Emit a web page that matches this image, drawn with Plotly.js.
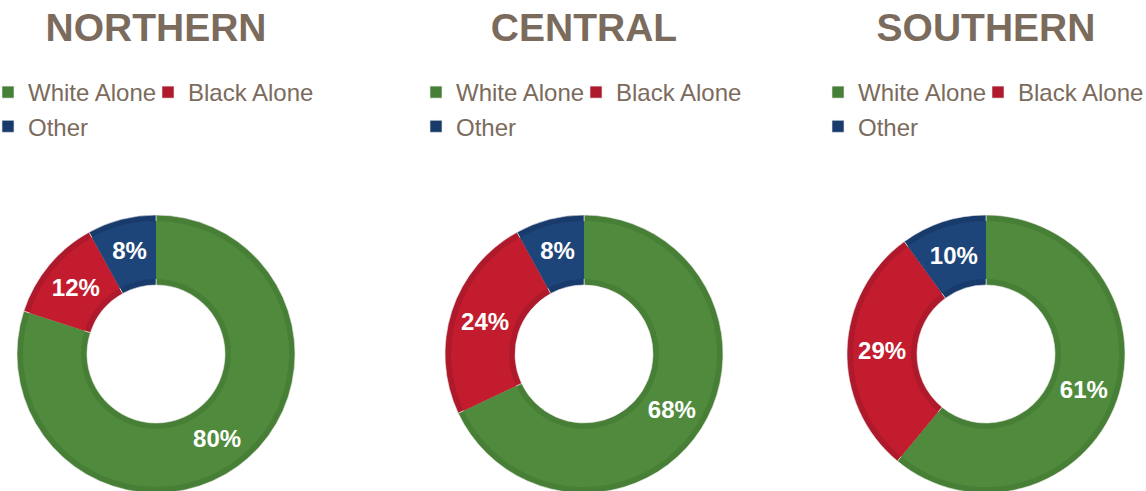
<!DOCTYPE html>
<html>
<head>
<meta charset="utf-8">
<script src="https://cdn.plot.ly/plotly-3.0.1.min.js"></script>
<style>
  html, body { margin: 0; padding: 0; background: #ffffff; }
  body { width: 1146px; height: 491px; overflow: hidden; position: relative; }
  .panel { position: absolute; top: 0; width: 340px; height: 500px; }
</style>
</head>
<body>
<div id="p0" class="panel"></div>
<div id="p1" class="panel"></div>
<div id="p2" class="panel"></div>
<script>
// ---- data ----
const regions = ['NORTHERN', 'CENTRAL', 'SOUTHERN'];
const groups = ['White Alone', 'Black Alone', 'Other'];
const northern = [80, 12, 8];
const central = [68, 24, 8];
const southern = [61, 29, 10];

// ---- styling ----
const seriesByRegion = [northern, central, southern];
const rimColors = ['#487f36', '#ae1a2b', '#183b6c'];
const fillColors = ['#508b3d', '#c21c2e', '#1e4579'];
const textColor = '#7b6b5d';
const fontFamily = 'Liberation Sans, Arial, Helvetica, sans-serif';
const panelLefts = [0, 428, 830];

const W = 340, H = 500, offset = 20;
const cx = 156 + offset;      // pie centre inside a panel (px)
const cyTop = 354;            // pie centre from top (px)
const rOuter = 139, rInner = 69, rim = 6;

function domainFor(r) {
  return {
    x: [(cx - r) / W, (cx + r) / W],
    y: [(H - cyTop - r) / H, (H - cyTop + r) / H]
  };
}

regions.forEach((name, i) => {
  const el = document.getElementById('p' + i);
  el.style.left = (panelLefts[i] - offset) + 'px';
  const vals = seriesByRegion[i];
  const rTop = rOuter - rim;
  const base = {
    type: 'pie',
    labels: groups,
    values: vals,
    sort: false,
    direction: 'clockwise',
    rotation: 0,
    hoverinfo: 'label+percent'
  };
  const under = Object.assign({}, base, {
    domain: domainFor(rOuter),
    hole: rInner / rOuter,
    marker: { colors: rimColors, line: { color: 'rgba(235,235,235,0.6)', width: 1 } },
    textinfo: 'none'
  });
  const over = Object.assign({}, base, {
    domain: domainFor(rTop),
    hole: (rInner + rim) / rTop,
    marker: { colors: fillColors, line: { color: 'rgba(235,235,235,0.0)', width: 0 } },
    texttemplate: '%{value}%',
    textposition: 'inside',
    insidetextorientation: 'horizontal',
    textfont: { family: fontFamily, size: 24, color: '#ffffff', weight: 'bold' },
    showlegend: false
  });
  const layout = {
    width: W, height: H,
    margin: { l: 0, r: 0, t: 0, b: 0 },
    paper_bgcolor: 'rgba(0,0,0,0)',
    plot_bgcolor: 'rgba(0,0,0,0)',
    title: {
      text: name,
      font: { family: fontFamily, size: 39, color: textColor, weight: 'bold' },
      x: cx / W, xref: 'container', xanchor: 'center',
      y: 1 - 27 / H, yref: 'container', yanchor: 'middle'
    },
    showlegend: true,
    legend: {
      orientation: 'h',
      x: (offset - 3) / W, xanchor: 'left',
      y: 1 - 70 / H, yanchor: 'top',
      entrywidth: 124,
      indentation: -9,
      font: { family: fontFamily, size: 24, color: textColor },
      bgcolor: 'rgba(0,0,0,0)'
    },
    uniformtext: { minsize: 24, mode: 'show' }
  };
  Plotly.newPlot(el, [under, over], layout, { displayModeBar: false, staticPlot: true });
});
</script>
</body>
</html>
